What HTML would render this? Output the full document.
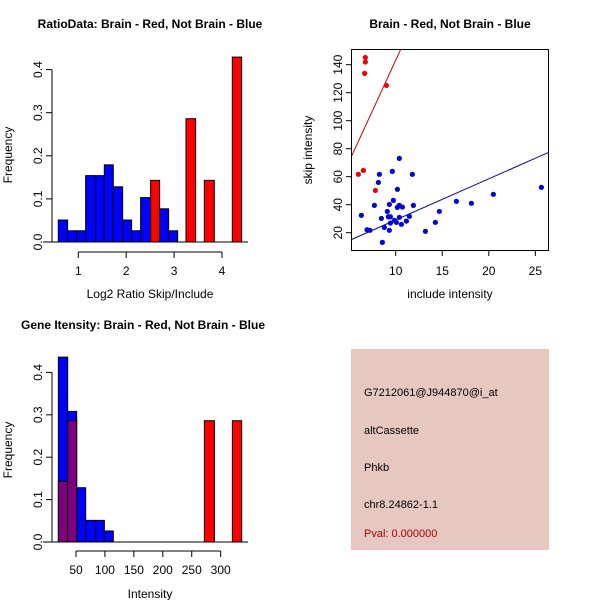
<!DOCTYPE html>
<html><head><meta charset="utf-8"><style>
body{margin:0;background:#fff}
svg{display:block;font-family:"Liberation Sans",sans-serif}
</style></head><body>
<svg id="s" width="600" height="600" xmlns="http://www.w3.org/2000/svg"></svg>
<script>
// ---- data: ratio histogram ----
const ratioBlueBreaks=[0.582,0.777,0.965,1.153,1.362,1.543,1.731,1.926,2.113,2.301,2.510,2.698,2.886,3.074];
const ratioBlueFreq=[0.051,0.026,0.026,0.154,0.154,0.179,0.128,0.051,0.026,0.103,0,0.077,0.026];
const ratioRedStart=[2.510,3.248,3.631,4.215];
const ratioRedEnd=[2.698,3.450,3.839,4.410];
const ratioRedFreq=[0.143,0.286,0.143,0.429];
const ratioXTicks=[1,2,3,4];
const freqTicks=[0,0.1,0.2,0.3,0.4];
// ---- data: scatter ----
const redX=[6.74,6.74,6.67,9.0,5.99,6.53,7.82];
const redY=[145.2,141.9,133.8,125.2,61.7,64.5,50.2];
const blueX=[6.31,6.92,7.24,7.71,8.14,8.25,8.46,8.57,8.78,9.10,9.21,9.32,9.32,9.43,9.43,9.64,9.75,9.86,10.07,10.18,10.18,10.39,10.39,10.39,10.61,10.72,11.15,11.47,11.79,11.90,13.19,14.26,14.69,16.52,18.13,20.49,25.65];
const blueY=[32.4,22.1,21.7,39.5,55.9,61.7,30.2,13.1,23.8,35.2,31.4,40.2,21.7,31.4,26.9,63.8,43.1,28.8,27.4,51.0,38.1,39.5,31.0,73.1,26.0,38.3,28.3,31.7,61.7,39.5,21.0,27.4,35.2,42.4,41.0,47.4,52.4];
const blueFit=[-0.3,2.94]; // intercept, slope
const redFit=[-1.4,14.46];
const scXTicks=[10,15,20,25];
const scYTicks=[20,40,60,80,100,120,140];
// ---- data: intensity histogram ----
const intBlueBreaks=[19.5,35.6,51.2,66.7,84,99,114.5];
const intBlueFreq=[0.436,0.308,0.128,0.051,0.051,0.026];
const intRedStart=[19.5,35.6,271.8,320.2];
const intRedEnd=[35.6,51.2,289.1,336.3];
const intRedFreq=[0.143,0.286,0.286,0.286];
const intXTicks=[50,100,150,200,250,300];

const S=document.getElementById('s');const NS='http://www.w3.org/2000/svg';
function mk(tag,a,name,txt){const e=document.createElementNS(NS,tag);for(const k in a)e.setAttribute(k,a[k]);


if(txt!==undefined)e.textContent=txt;S.appendChild(e);return e;}
function line(x1,y1,x2,y2,n,c){return mk('line',{x1,y1,x2,y2,stroke:c||'#000','stroke-width':1},n);}
function text(x,y,t,n,o){o=o||{};const a={x,y,'font-size':o.fs||12,'text-anchor':o.anchor||'middle',fill:o.fill||'#000'};
if(o.bold)a['font-weight']='bold';if(o.rot)a.transform='rotate(-90 '+x+' '+y+')';return mk('text',a,n,t);}
function yAxis(x,ymap,ticks,n){line(x,ymap(ticks[0]),x,ymap(ticks[ticks.length-1]),n+'-line');
ticks.forEach(t=>{line(x-6,ymap(t),x,ymap(t),n+'-tick');text(x-10,ymap(t),t.toFixed(1),n+'-label',{rot:1});});}

// panel 1
(function(){const X=v=>78.3+(v-1)*47.9, Y=v=>242-v*431;
text(150,28,'RatioData: Brain - Red, Not Brain - Blue','title-ratio',{bold:1,fs:12});
for(let i=0;i<ratioBlueFreq.length;i++){if(!ratioBlueFreq[i])continue;const x0=X(ratioBlueBreaks[i]),x1=X(ratioBlueBreaks[i+1]);
mk('rect',{x:x0,y:Y(ratioBlueFreq[i]),width:x1-x0,height:Y(0)-Y(ratioBlueFreq[i]),fill:'#0000ff',stroke:'#000','stroke-width':1},'bar-blue');}
for(let i=0;i<ratioRedFreq.length;i++){const x0=X(ratioRedStart[i]),x1=X(ratioRedEnd[i]);
mk('rect',{x:x0,y:Y(ratioRedFreq[i]),width:x1-x0,height:Y(0)-Y(ratioRedFreq[i]),fill:'#ff0000',stroke:'#000','stroke-width':1},'bar-red');}
line(43,242,248,242,'baseline');
yAxis(52,Y,freqTicks,'y-axis');
line(X(1),252,X(4),252,'x-axis-line');
ratioXTicks.forEach(t=>{line(X(t),252,X(t),258,'x-tick');text(X(t),275,String(t),'x-tick-label');});
text(150,298,'Log2 Ratio Skip/Include','x-axis-title');
text(12,155,'Frequency','y-axis-title',{rot:1});
})();

// panel 2
(function(){const X=v=>395.7+(v-10)*9.31, Y=v=>232.7-(v-20)*1.4;
text(450,28,'Brain - Red, Not Brain - Blue','title-scatter',{bold:1,fs:12});
mk('clipPath',{id:'cp'},'clip');document.getElementById('cp').appendChild((()=>{const r=document.createElementNS(NS,'rect');r.setAttribute('x',352);r.setAttribute('y',49);r.setAttribute('width',196);r.setAttribute('height',201);return r;})());
const x0=5.27,x1=26.38;
mk('line',{x1:X(x0),y1:Y(blueFit[0]+blueFit[1]*x0),x2:X(x1),y2:Y(blueFit[0]+blueFit[1]*x1),stroke:'#0000aa','stroke-width':1,'clip-path':'url(#cp)'},'fit-line-blue');
mk('line',{x1:X(x0),y1:Y(redFit[0]+redFit[1]*x0),x2:X(x1),y2:Y(redFit[0]+redFit[1]*x1),stroke:'#cc0000','stroke-width':1,'clip-path':'url(#cp)'},'fit-line-red');
blueX.forEach((v,i)=>mk('circle',{cx:X(v),cy:Y(blueY[i]),r:2.6,fill:'#0000dd'},'point-blue'));
redX.forEach((v,i)=>mk('circle',{cx:X(v),cy:Y(redY[i]),r:2.6,fill:'#ee0000'},'point-red'));
mk('rect',{x:351.5,y:49.5,width:197,height:201,fill:'none',stroke:'#000'},'plot-box');
scXTicks.forEach(t=>{line(X(t),250,X(t),256,'x-tick');text(X(t),275,String(t),'x-tick-label');});
scYTicks.forEach(t=>{line(346,Y(t),352,Y(t),'y-tick');text(342,Y(t),String(t),'y-tick-label',{rot:1});});
text(450,298,'include intensity','x-axis-title');
text(312,150,'skip intensity','y-axis-title',{rot:1});
})();

// panel 3
(function(){const X=v=>76+(v-50)*0.5787, Y=v=>542-v*424;
text(143,329,'Gene Itensity: Brain - Red, Not Brain - Blue','title-intensity',{bold:1,fs:12});
for(let i=0;i<intBlueFreq.length;i++){const x0=X(intBlueBreaks[i]),x1=X(intBlueBreaks[i+1]);
mk('rect',{x:x0,y:Y(intBlueFreq[i]),width:x1-x0,height:Y(0)-Y(intBlueFreq[i]),fill:'#0000ff',stroke:'#000','stroke-width':1},'bar-blue');}
const blueMax=intBlueBreaks[intBlueBreaks.length-1];
for(let i=0;i<intRedFreq.length;i++){const x0=X(intRedStart[i]),x1=X(intRedEnd[i]);
const over=intRedStart[i]<blueMax;
mk('rect',{x:x0,y:Y(intRedFreq[i]),width:x1-x0,height:Y(0)-Y(intRedFreq[i]),fill:over?'#7f007f':'#ff0000',stroke:'#000','stroke-width':1},'bar-red');}
line(43,542,248,542,'baseline');
yAxis(52,Y,freqTicks,'y-axis');
line(X(50),551,X(300),551,'x-axis-line');
intXTicks.forEach(t=>{line(X(t),551,X(t),557,'x-tick');text(X(t),574,String(t),'x-tick-label');});
text(150,598,'Intensity','x-axis-title');
text(12,450,'Frequency','y-axis-title',{rot:1});
})();

// panel 4 info
mk('rect',{x:351,y:349,width:198,height:201,fill:'#e6c8c0'},'info-panel');
text(364,396,'G7212061@J944870@i_at','probe-id',{anchor:'start',fs:11});
text(364,434,'altCassette','event-type',{anchor:'start',fs:11});
text(364,471,'Phkb','gene-name',{anchor:'start',fs:11});
text(364,508,'chr8.24862-1.1','location',{anchor:'start',fs:11});
text(364,537,'Pval: 0.000000','pvalue',{anchor:'start',fill:'#aa0000',fs:11});
</script>
</body></html>
